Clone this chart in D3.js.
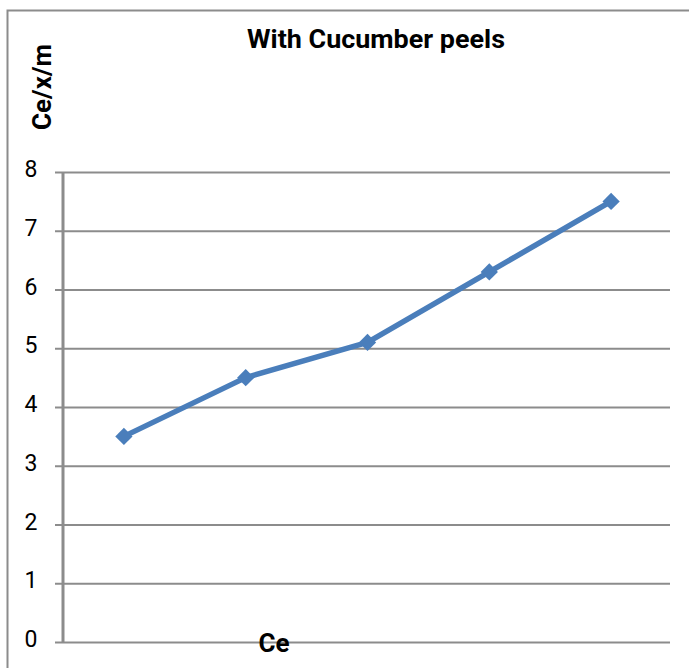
<!DOCTYPE html>
<html>
<head>
<meta charset="utf-8">
<script src="https://cdn.jsdelivr.net/npm/d3@7"></script>
<style>
html, body { margin: 0; background: #fff; overflow: hidden; }
svg { display: block; }
</style>
</head>
<body>
<div id="chart"></div>
<script>
var categories = ["c1", "c2", "c3", "c4", "c5"];
var values = [3.5, 4.5, 5.1, 6.3, 7.5];
var yTicks = [0, 1, 2, 3, 4, 5, 6, 7, 8];
var title = "With Cucumber peels";
var xTitle = "Ce";
var yTitle = "Ce/x/m";

var W = 689, H = 668;
var plot = {left: 63, right: 672, top: 172, bottom: 642};
var gridEnd = 670;

var svg = d3.select("#chart").append("svg")
	.attr("width", W)
	.attr("height", H);

// outer frame, only left + top edge show
svg.append("path")
	.attr("d", "M7.5," + (H + 5) + "V10.5H" + (W + 5))
	.attr("fill", "none")
	.attr("stroke", "#8c8c8c")
	.attr("stroke-width", 2);

var x = d3.scaleBand()
	.domain(categories)
	.range([plot.left, plot.right]);

var y = d3.scaleLinear()
	.domain([0, 8])
	.range([plot.bottom, plot.top]);

var yAxis = d3.axisLeft(y)
	.tickValues(yTicks)
	.tickSize(0);

var ga = svg.append("g")
	.attr("transform", "translate(" + plot.left + ",0)")
	.call(yAxis);
ga.select(".domain").remove();
ga.selectAll(".tick line")
	.attr("x1", -8)
	.attr("x2", gridEnd - plot.left)
	.attr("stroke", "#8c8c8c")
	.attr("stroke-width", 2);
ga.selectAll(".tick text")
	.attr("font-family", "Roboto, 'Liberation Sans', sans-serif")
	.attr("font-size", 23)
	.attr("fill", "#000")
	.attr("text-anchor", "middle")
	.attr("x", -32)
	.attr("dy", "0.2em");

// vertical axis line
svg.append("line")
	.attr("x1", plot.left).attr("x2", plot.left)
	.attr("y1", y(8)).attr("y2", y(0))
	.attr("stroke", "#8c8c8c")
	.attr("stroke-width", 3);

var line = d3.line()
	.x(function(d, i){ return x(categories[i]) + x.bandwidth() / 2; })
	.y(function(d){ return y(d); });

svg.append("path")
	.datum(values)
	.attr("d", line)
	.attr("fill", "none")
	.attr("stroke", "#4a7ebb")
	.attr("stroke-width", 5.5)
	.attr("stroke-linejoin", "round");

svg.selectAll(".pt")
	.data(values)
	.enter().append("path")
	.attr("class", "pt")
	.attr("d", d3.symbol().type(d3.symbolDiamond2).size(190))
	.attr("transform", function(d, i){
		return "translate(" + (x(categories[i]) + x.bandwidth() / 2) + "," + y(d) + ")";
	})
	.attr("fill", "#4a7ebb");

// titles
svg.append("text")
	.attr("x", 376).attr("y", 48)
	.attr("text-anchor", "middle")
	.attr("font-family", "Roboto, 'Liberation Sans', sans-serif")
	.attr("font-weight", "bold")
	.attr("font-size", 25)
	.attr("textLength", 258)
	.attr("lengthAdjust", "spacingAndGlyphs")
	.text(title);

svg.append("text")
	.attr("transform", "translate(51,87) rotate(-90)")
	.attr("text-anchor", "middle")
	.attr("font-family", "Roboto, 'Liberation Sans', sans-serif")
	.attr("font-weight", "bold")
	.attr("font-size", 26)
	.text(yTitle);

svg.append("text")
	.attr("x", 274).attr("y", 652)
	.attr("text-anchor", "middle")
	.attr("font-family", "Roboto, 'Liberation Sans', sans-serif")
	.attr("font-weight", "bold")
	.attr("font-size", 26)
	.text(xTitle);
</script>
</body>
</html>
